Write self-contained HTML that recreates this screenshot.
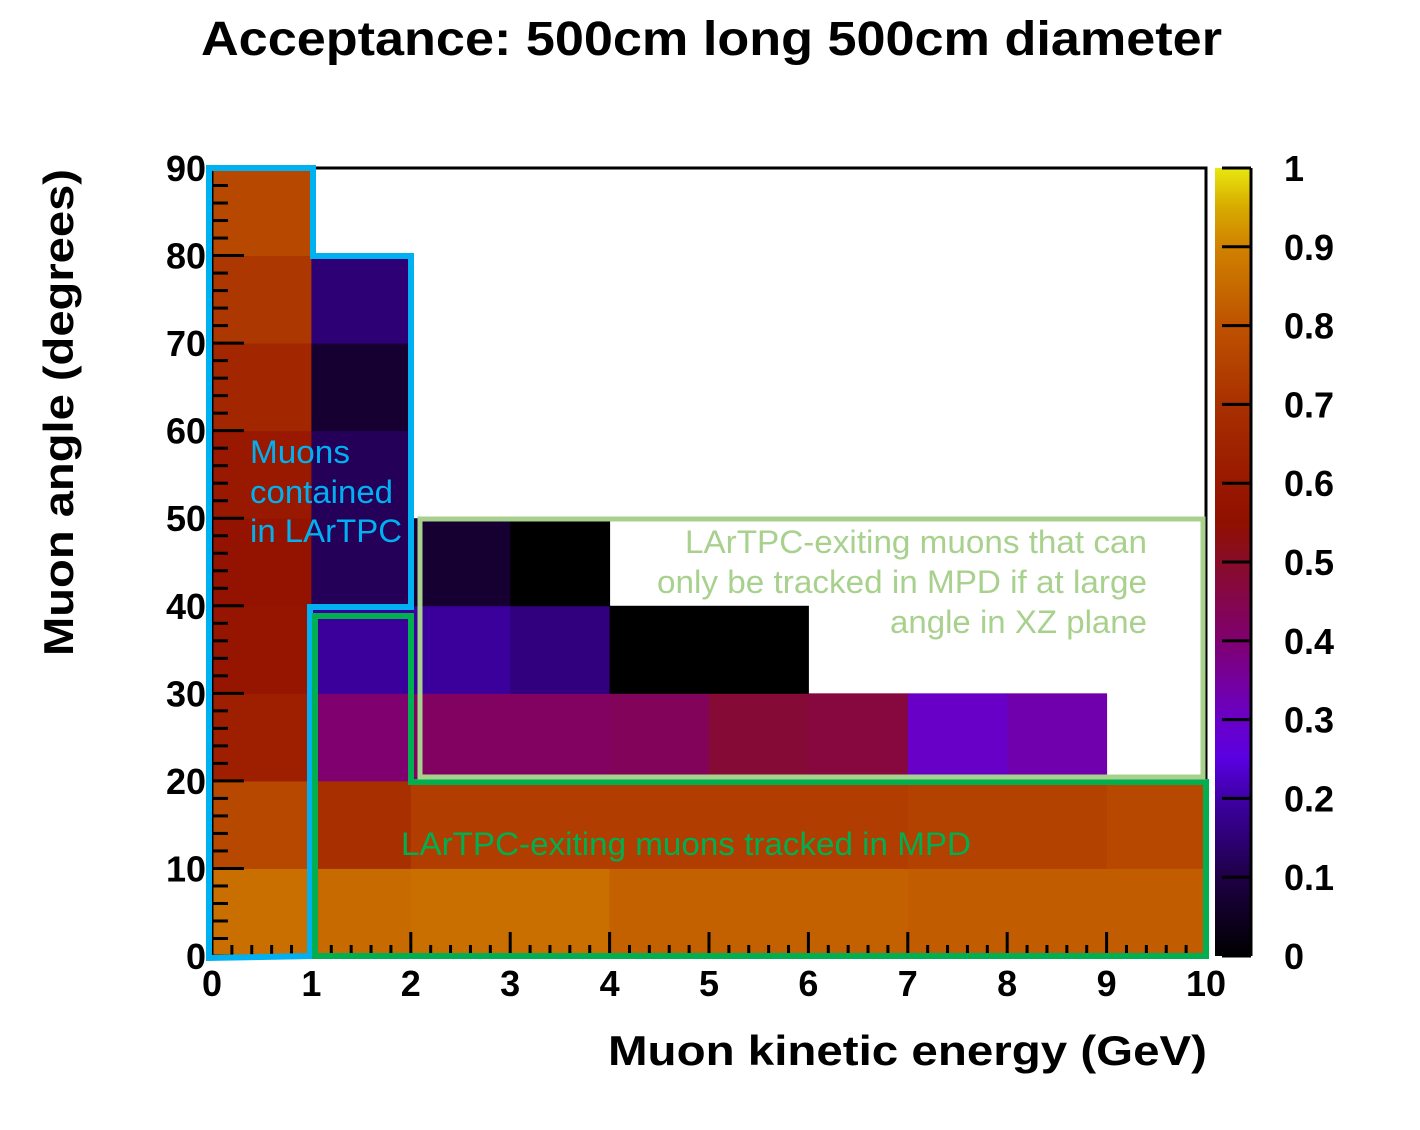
<!DOCTYPE html>
<html><head><meta charset="utf-8"><style>
html,body{margin:0;padding:0;background:#fff;}
svg text{font-family:"Liberation Sans",Arial,sans-serif;}
</style></head><body>
<svg id="chart" width="1420" height="1125" viewBox="0 0 1420 1125" xmlns="http://www.w3.org/2000/svg">
<text x="201" y="55" textLength="1021" lengthAdjust="spacingAndGlyphs" font-size="48" font-weight="bold">Acceptance: 500cm long 500cm diameter</text>
<g id="cells"></g>
<g id="axes"></g>
<g id="cbar"></g>
<text transform="translate(73,656) rotate(-90)" textLength="487" lengthAdjust="spacingAndGlyphs" font-size="42" font-weight="bold">Muon angle (degrees)</text>
<text x="608" y="1065" textLength="599" lengthAdjust="spacingAndGlyphs" font-size="42" font-weight="bold">Muon kinetic energy (GeV)</text>
<polygon points="209,168 313,168 313,256 411,256 411,607 310,607 310,956 209,958" fill="none" stroke="#00b0f0" stroke-width="6"/>
<polygon points="315,616 411,616 411,782 1206,782 1206,956 315,956" fill="none" stroke="#00b050" stroke-width="6"/>
<rect x="420" y="519" width="783" height="258" fill="none" stroke="#a9d18e" stroke-width="5"/>
<g font-size="32" fill="#00b0f0">
<text x="250" y="463" textLength="100" lengthAdjust="spacingAndGlyphs">Muons</text><text x="250" y="503" textLength="143" lengthAdjust="spacingAndGlyphs">contained</text><text x="250" y="542" textLength="152" lengthAdjust="spacingAndGlyphs">in LArTPC</text></g>
<g font-size="32" fill="#a9d18e">
<text x="685" y="553" textLength="462" lengthAdjust="spacingAndGlyphs">LArTPC-exiting muons that can</text><text x="657" y="593" textLength="490" lengthAdjust="spacingAndGlyphs">only be tracked in MPD if at large</text><text x="890" y="633" textLength="257" lengthAdjust="spacingAndGlyphs">angle in XZ plane</text></g>
<text x="401" y="855" textLength="570" lengthAdjust="spacingAndGlyphs" font-size="32" fill="#00b050">LArTPC-exiting muons tracked in MPD</text>
</svg>
<script>
const xEdges=[0,1,2,3,4,5,6,7,8,9,10];
const yEdges=[0,10,20,30,40,50,60,70,80,90];
const xTickLabels=["0","1","2","3","4","5","6","7","8","9","10"];
const yTickLabels=["0","10","20","30","40","50","60","70","80","90"];
const zTickLabels=["0","0.1","0.2","0.3","0.4","0.5","0.6","0.7","0.8","0.9","1"];
// acceptance per x-bin column, from low angle to high angle (null = empty)
const col0=[0.86,0.77,0.63,0.58,0.57,0.60,0.66,0.72,0.77];
const col1=[0.85,0.70,0.40,0.19,0.12,0.12,0.07,0.15,null];
const col2=[0.86,0.74,0.42,0.19,0.07,null,null,null,null];
const col3=[0.86,0.74,0.42,0.16,0.00,null,null,null,null];
const col4=[0.83,0.74,0.43,0.00,null,null,null,null,null];
const col5=[0.83,0.74,0.48,0.00,null,null,null,null,null];
const col6=[0.83,0.74,0.47,null,null,null,null,null,null];
const col7=[0.82,0.75,0.30,null,null,null,null,null,null];
const col8=[0.82,0.75,0.33,null,null,null,null,null,null];
const col9=[0.82,0.77,null,null,null,null,null,null,null];
const columns=[col0,col1,col2,col3,col4,col5,col6,col7,col8,col9];

const X0=212,X1=1206,Y0=956,Y1=168;
const xs=v=>X0+(v-0)/10*(X1-X0);
const ys=v=>Y0-(v-0)/90*(Y0-Y1);
const NS="http://www.w3.org/2000/svg";
const stops=[[0,[0,0,0]],[0.1,[30,0,70]],[0.2,[62,0,165]],[0.25,[90,0,225]],[0.3,[105,0,200]],[0.4,[128,0,112]],[0.5,[136,12,40]],[0.55,[144,16,0]],[0.6,[152,24,0]],[0.7,[168,48,0]],[0.8,[190,82,0]],[0.9,[208,130,0]],[0.95,[215,170,0]],[1,[232,232,16]]];
function cmap(v){v=Math.max(0,Math.min(1,v));for(let i=1;i<stops.length;i++){if(v<=stops[i][0]){const a=stops[i-1],b=stops[i],t=(v-a[0])/(b[0]-a[0]);const c=a[1].map((x,k)=>Math.round(x+(b[1][k]-x)*t));return `rgb(${c})`;}}return "rgb(232,232,16)";}
function mk(tag,attrs,parent){const e=document.createElementNS(NS,tag);for(const k in attrs)e.setAttribute(k,attrs[k]);parent.appendChild(e);return e;}
const cells=document.getElementById('cells');
columns.forEach((col,i)=>col.forEach((v,j)=>{if(v===null)return;
 const r=mk('rect',{x:xs(xEdges[i]),y:ys(yEdges[j+1]),width:xs(xEdges[i+1])-xs(xEdges[i])+0.5,height:ys(yEdges[j])-ys(yEdges[j+1])+0.5,fill:cmap(v)},cells);
 
 }));
const ax=document.getElementById('axes');
const fr=mk('rect',{x:X0,y:Y1,width:X1-X0,height:Y0-Y1,fill:'none',stroke:'#000','stroke-width':3},ax);


for(let k=0;k<=50;k++){const v=k*0.2,x=xs(v),L=(k%5===0)?24:11;mk('line',{x1:x,x2:x,y1:Y0,y2:Y0-L,stroke:'#000','stroke-width':3},ax);}
for(let k=0;k<=45;k++){const v=k*2,y=ys(v),L=(k%5===0)?32:16;mk('line',{x1:X0,x2:X0+L,y1:y,y2:y,stroke:'#000','stroke-width':3},ax);}
xTickLabels.forEach((t,i)=>{const e=mk('text',{x:xs(xEdges[i]),y:Y0+40,'text-anchor':'middle','font-size':36,'font-weight':'bold'},ax);e.textContent=t;
 
 });
yTickLabels.forEach((t,i)=>{const e=mk('text',{x:X0-6,y:ys(yEdges[i])+13,'text-anchor':'end','font-size':36,'font-weight':'bold'},ax);e.textContent=t;
 
 });
const cb=document.getElementById('cbar');
const defs=mk('defs',{},cb);const g=mk('linearGradient',{id:'cg',x1:0,y1:1,x2:0,y2:0},defs);
for(let k=0;k<=40;k++){mk('stop',{offset:k/40,'stop-color':cmap(k/40)},g);}
const CX0=1215,CX1=1250;
const cbr=mk('rect',{x:CX0,y:Y1,width:CX1-CX0,height:Y0-Y1,fill:'url(#cg)'},cb);


mk('line',{x1:CX1+1,x2:CX1+1,y1:Y1,y2:Y0,stroke:'#000','stroke-width':3},cb);
zTickLabels.forEach((t,i)=>{const v=i/10,y=Y0-v*(Y0-Y1);mk('line',{x1:CX1-28,x2:CX1+1,y1:y,y2:y,stroke:'#000','stroke-width':3},cb);
 const e=mk('text',{x:CX1+34,y:y+13,'font-size':36,'font-weight':'bold'},cb);e.textContent=t;
 
 });
</script>
</body></html>
